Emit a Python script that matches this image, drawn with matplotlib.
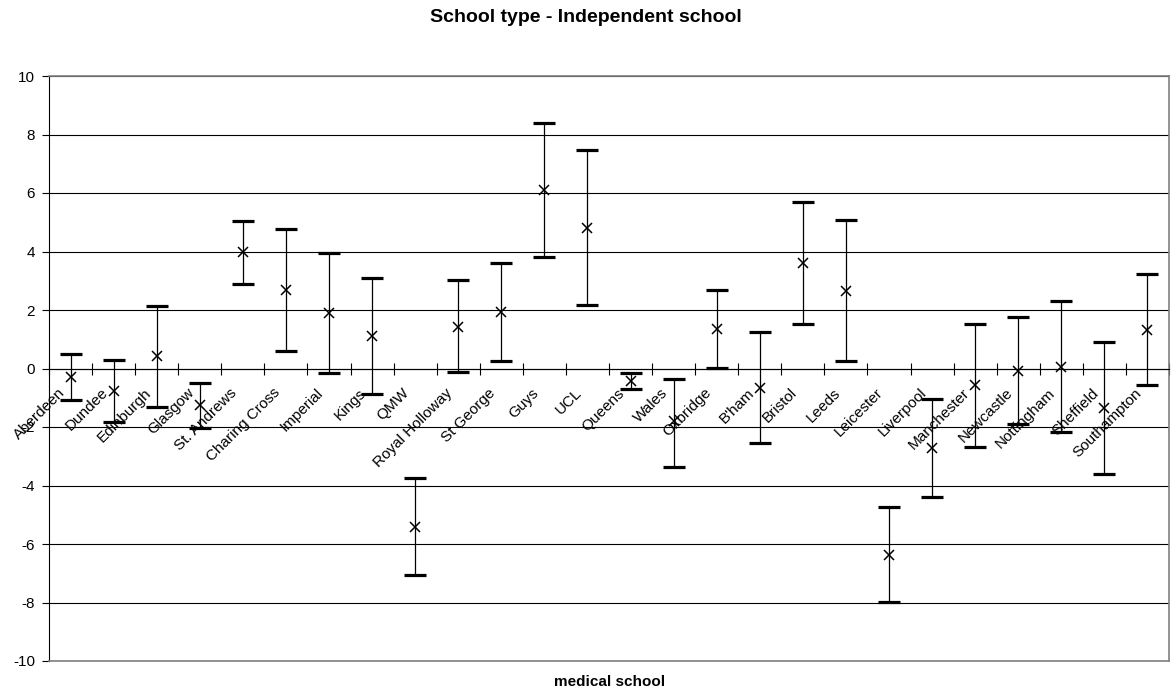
import matplotlib
matplotlib.use('Agg')
import matplotlib.pyplot as plt
import matplotlib.transforms as mtransforms
import numpy as np

plt.rcParams['font.family'] = ['Liberation Sans', 'DejaVu Sans']
plt.rcParams['axes.unicode_minus'] = False

schools = ['Aberdeen', 'Dundee', 'Edinburgh', 'Glasgow', 'St. Andrews', 'Charing Cross',
           'Imperial', 'Kings', 'QMW', 'Royal Holloway', 'St George', 'Guys', 'UCL',
           'Queens', 'Wales', 'Oxbridge', "B'ham", 'Bristol', 'Leeds', 'Leicester',
           'Liverpool', 'Manchester', 'Newcastle', 'Nottingham', 'Sheffield', 'Southampton']
estimate = [-0.29, -0.77, 0.42, -1.26, 3.97, 2.68, 1.89, 1.10, -5.41, 1.43, 1.92, 6.09, 4.81,
            -0.42, -1.78, 1.34, -0.66, 3.61, 2.66, -6.38, -2.71, -0.58, -0.07, 0.06, -1.35, 1.32]
ci_low = [-1.09, -1.83, -1.33, -2.03, 2.89, 0.60, -0.16, -0.88, -7.07, -0.12, 0.27, 3.80, 2.18,
          -0.69, -3.36, 0.01, -2.56, 1.53, 0.27, -7.99, -4.39, -2.68, -1.91, -2.16, -3.61, -0.56]
ci_high = [0.51, 0.30, 2.14, -0.48, 5.05, 4.76, 3.95, 3.09, -3.74, 3.02, 3.61, 8.40, 7.46,
           -0.14, -0.36, 2.67, 1.25, 5.68, 5.08, -4.74, -1.03, 1.52, 1.77, 2.32, 0.92, 3.24]

est = np.array(estimate)
yerr = [est - np.array(ci_low), np.array(ci_high) - est]
xpos = np.arange(len(schools)) + 0.5

fig = plt.figure(figsize=(11.71, 7.0), dpi=100)
ax = fig.add_axes([49 / 1171, 1 - 661 / 700, 1120 / 1171, 585 / 700])

markers, caps, bars = ax.errorbar(xpos, est, yerr=yerr, fmt='x', color='black', ecolor='black',
                                  elinewidth=0.9, capsize=8, capthick=2.2, markersize=7,
                                  markeredgewidth=1.1, zorder=4)
for c in caps:
    c.set_markeredgewidth(2.3)

ax.set_xlim(0, len(schools))
ax.set_ylim(-10, 10)
ax.set_yticks(np.arange(-10, 11, 2))
ax.yaxis.grid(True, color='black', linewidth=0.8)
ax.set_axisbelow(True)

# category axis sits at y = 0 with ticks crossing it between schools
ax.spines['bottom'].set_position(('data', 0))
ax.spines['bottom'].set_color('black')
ax.spines['bottom'].set_linewidth(0.8)
ax.spines['left'].set_color('black')
ax.spines['left'].set_linewidth(0.8)
for side in ['top', 'right']:
    ax.spines[side].set_color('#808080')
    ax.spines[side].set_linewidth(1.2)
ax.axhline(-10, color='#808080', linewidth=1.2, zorder=3, clip_on=False)

ax.set_xticks(np.arange(len(schools) + 1), minor=True)
ax.tick_params(axis='x', which='minor', direction='inout', length=8, width=0.8)
ax.set_xticks(xpos)
ax.set_xticklabels(schools, rotation=45, ha='right', va='center', rotation_mode='anchor',
                   fontsize=11)
ax.tick_params(axis='x', which='major', length=0, pad=16)
shift = mtransforms.ScaledTranslation(-8 / 100, 0, fig.dpi_scale_trans)
for lbl in ax.get_xticklabels():
    lbl.set_transform(lbl.get_transform() + shift)

ax.tick_params(axis='y', direction='out', length=5, width=0.8, pad=5, labelsize=11)

fig.text(0.5, 1 - 17 / 700, 'School type - Independent school', ha='center', va='center',
         fontsize=14, fontweight='bold')
fig.text(610 / 1171, 1 - 682 / 700, 'medical school', ha='center', va='center',
         fontsize=11, fontweight='bold')

fig.savefig('out.png', dpi=100)
